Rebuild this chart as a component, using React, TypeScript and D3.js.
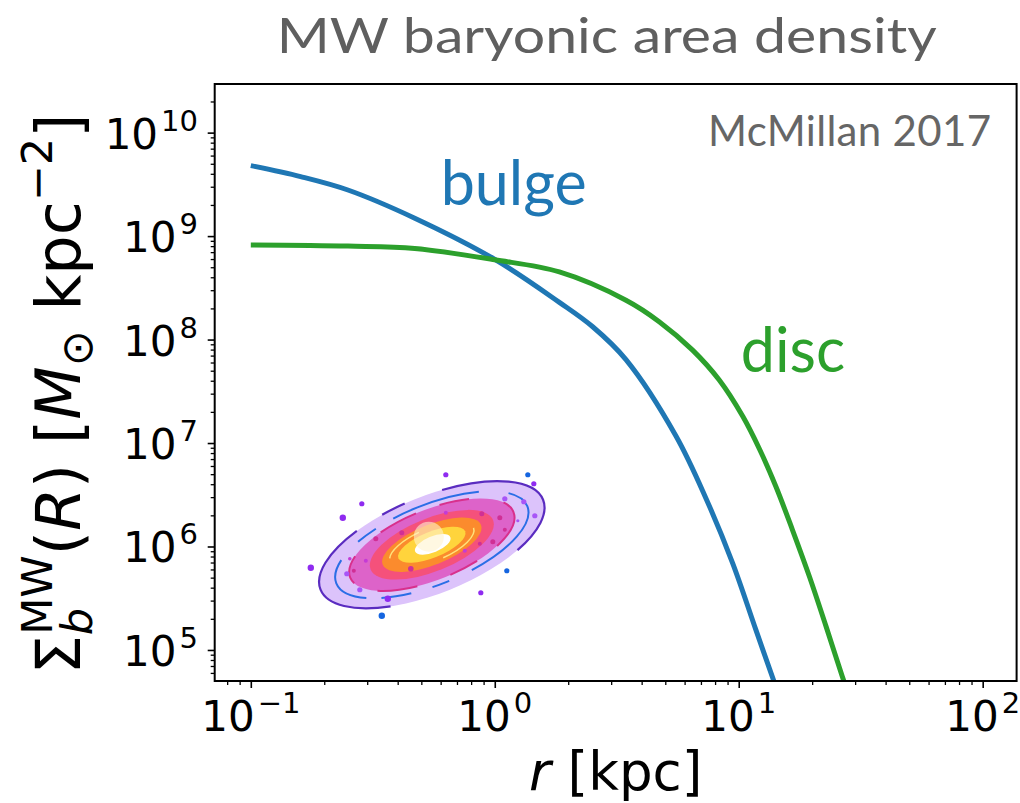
import React, { Component } from "react";
import * as d3 from "d3";

// r in kpc, Sigma in Msun / kpc^2
const bulgeR = [0.1, 0.16, 0.25, 0.47, 1.0, 1.84, 2.52, 3.45, 5.53, 7.35, 9.44, 11.75, 14.3];
const bulgeSigma = [4.8e9, 3.76e9, 2.79e9, 1.49e9, 5.96e8, 2.29e8, 1.33e8, 6.4e7, 1.17e7, 2.9e6, 6.9e5, 1.57e5, 4.2e4];

const discR = [0.1, 0.25, 0.47, 1.0, 1.84, 3.45, 4.72, 6.47, 8.32, 10.4, 12.2, 14.2, 16.6, 19.5, 22.8, 26.6, 27.6];
const discSigma = [8.2e8, 8.0e8, 7.6e8, 5.9e8, 4.5e8, 2.4e8, 1.49e8, 7.9e7, 4.06e7, 1.8e7, 8.6e6, 3.8e6, 1.45e6, 5.1e5, 1.69e5, 5.5e4, 4.3e4];

const xMajor = [0.1, 1, 10, 100];
const xExp = ["\u22121", "0", "1", "2"];
const yMajor = [1e5, 1e6, 1e7, 1e8, 1e9, 1e10];
const yExp = ["5", "6", "7", "8", "9", "10"];

const W = 1020;
const H = 803;
const tickFont = "'DejaVu Sans', sans-serif";
const titleFont = "Lato, 'Open Sans', sans-serif";

class App extends Component {
    node: SVGSVGElement | null = null;

    componentDidMount() {
        this.draw();
    }

    draw() {
        const svg = d3.select(this.node);
        svg.selectAll("*").remove();
        const m = { left: 214.7, right: 1016.6, top: 84, bottom: 681 };

        const x = d3.scaleLog().domain([10 ** -1.148, 10 ** 2.139]).range([m.left, m.right]);
        const y = d3.scaleLog().domain([10 ** 4.7, 10 ** 10.47]).range([m.bottom, m.top]);

        svg.append("clipPath").attr("id", "plot")
            .append("rect")
            .attr("x", m.left).attr("y", m.top)
            .attr("width", m.right - m.left).attr("height", m.bottom - m.top);

        // minor ticks
        const xMinor: number[] = [];
        [0.01, 0.1, 1, 10, 100].forEach(d => d3.range(2, 10).forEach(k => xMinor.push(d * k)));
        const yMinor: number[] = [];
        yMajor.concat([1e4]).forEach(d => d3.range(2, 10).forEach(k => yMinor.push(d * k)));
        const inX = (v: number) => v >= x.domain()[0] && v <= x.domain()[1];
        const inY = (v: number) => v >= y.domain()[0] && v <= y.domain()[1];

        svg.append("g")
            .attr("transform", `translate(0,${m.bottom})`)
            .call(d3.axisBottom(x).tickValues(xMinor.filter(inX)).tickSize(4).tickFormat(() => ""))
            .call(g => g.select(".domain").remove())
            .call(g => g.selectAll("line").attr("stroke-width", 1.3));
        svg.append("g")
            .attr("transform", `translate(0,${m.bottom})`)
            .call(d3.axisBottom(x).tickValues(xMajor).tickSize(7).tickFormat(() => ""))
            .call(g => g.select(".domain").remove())
            .call(g => g.selectAll("line").attr("stroke-width", 1.6));
        svg.append("g")
            .attr("transform", `translate(${m.left},0)`)
            .call(d3.axisLeft(y).tickValues(yMinor.filter(inY)).tickSize(4).tickFormat(() => ""))
            .call(g => g.select(".domain").remove())
            .call(g => g.selectAll("line").attr("stroke-width", 1.3));
        svg.append("g")
            .attr("transform", `translate(${m.left},0)`)
            .call(d3.axisLeft(y).tickValues(yMajor).tickSize(7).tickFormat(() => ""))
            .call(g => g.select(".domain").remove())
            .call(g => g.selectAll("line").attr("stroke-width", 1.6));

        // tick labels, 10 with a raised exponent
        xMajor.forEach((v, i) => {
            const t = svg.append("text")
                .attr("x", x(v)).attr("y", 731)
                .attr("text-anchor", "middle")
                .attr("font-family", tickFont).attr("font-size", 42);
            t.append("tspan").text("10");
            t.append("tspan").attr("dx", 3).attr("dy", -18).attr("font-size", 29).text(xExp[i]);
        });
        yMajor.forEach((v, i) => {
            const t = svg.append("text")
                .attr("x", 198).attr("y", y(v) + 16)
                .attr("text-anchor", "end")
                .attr("font-family", tickFont).attr("font-size", 42);
            t.append("tspan").text("10");
            t.append("tspan").attr("dx", 3).attr("dy", -18).attr("font-size", 29).text(yExp[i]);
        });

        // galaxy icon
        const gx = x(0.552), gy = y(1.04e6);
        const gal = svg.append("g").attr("transform", `translate(${gx},${gy})`);
        const rot = gal.append("g").attr("transform", "rotate(-22)");
        rot.append("ellipse").attr("rx", 120).attr("ry", 48.5)
            .attr("fill", "#dcc3fb").attr("stroke", "#5a2cc0").attr("stroke-width", 2.2)
            .attr("stroke-dasharray", "60 140 150 30 25 40 110");
        rot.append("ellipse").attr("rx", 103).attr("ry", 40)
            .attr("fill", "none").attr("stroke", "#2a6ee6").attr("stroke-width", 2)
            .attr("stroke-dasharray", "90 25 18 22 30 15 60 25 22 20 90 30 26");
        rot.append("ellipse").attr("rx", 88).attr("ry", 35)
            .attr("fill", "#dd63c9").attr("stroke", "#d8308c").attr("stroke-width", 2)
            .attr("stroke-dasharray", "40 25 30 35");
        rot.append("ellipse").attr("rx", 66).attr("ry", 26.5).attr("fill", "#f5517b");
        rot.append("ellipse").attr("rx", 53).attr("ry", 20).attr("fill", "#fb8b2d");
        rot.append("ellipse").attr("rx", 45).attr("ry", 16.5)
            .attr("fill", "none").attr("stroke", "#ffe27a").attr("stroke-width", 1.5)
            .attr("stroke-dasharray", "45 60 40 200");
        rot.append("ellipse").attr("rx", 36).attr("ry", 13).attr("fill", "#ffd43c");
        gal.append("circle").attr("cx", -3).attr("cy", -8).attr("r", 15)
            .attr("fill", "#fff3cf").attr("opacity", 0.6);
        rot.append("ellipse").attr("cx", 1).attr("rx", 19).attr("ry", 8).attr("fill", "#fff");

        const dots: [number, number, number, string][] = [
            [14, -70, 2.6, "#8f2bf0"], [102, -61, 2.6, "#8f2bf0"], [-70, -41, 2.6, "#8f2bf0"],
            [-89, -27, 3.2, "#8f2bf0"], [-121, 23, 3.2, "#8f2bf0"], [-44, 54, 3.2, "#8f2bf0"],
            [49, 48, 2.6, "#8f2bf0"], [96, -70, 2.6, "#1565e0"], [-50, 71, 3.2, "#1565e0"],
            [75, 26, 2.6, "#1565e0"], [-72, 45, 2.6, "#a855f7"], [-85, 29, 2.6, "#a855f7"],
            [73, -46, 2.6, "#a855f7"], [92, -43, 2.6, "#a855f7"], [103, -29, 2.6, "#a855f7"],
            [86, -24, 1.6, "#a855f7"], [-30, -12, 2.5, "#d02f95"], [-56, -6, 2.5, "#d02f95"],
            [-66, 16, 2, "#c43bd6"], [-78, 26, 2, "#d02f95"], [-21, 24, 2.8, "#d02f95"],
            [14, -32, 2, "#c43bd6"], [50, -31, 2.5, "#d02f95"], [68, -27, 2.5, "#d02f95"],
            [73, -15, 2, "#d02f95"], [61, -3, 2.5, "#d02f95"], [48, -1, 2, "#d02f95"],
            [33, 6, 2, "#c43bd6"], [-82, 14, 1.8, "#c43bd6"],
        ];
        gal.selectAll("circle.dot").data(dots).join("circle")
            .attr("class", "dot")
            .attr("cx", d => d[0]).attr("cy", d => d[1]).attr("r", d => d[2])
            .attr("fill", d => d[3]);

        // curves
        const line = d3.line<[number, number]>()
            .x(d => x(d[0])).y(d => y(d[1]))
            .curve(d3.curveCatmullRom.alpha(0.5));
        const plot = svg.append("g").attr("clip-path", "url(#plot)");
        plot.append("path")
            .datum(bulgeR.map((r, i) => [r, bulgeSigma[i]] as [number, number]))
            .attr("d", line).attr("fill", "none")
            .attr("stroke", "#1f77b4").attr("stroke-width", 5);
        plot.append("path")
            .datum(discR.map((r, i) => [r, discSigma[i]] as [number, number]))
            .attr("d", line).attr("fill", "none")
            .attr("stroke", "#2ca02c").attr("stroke-width", 5);

        // spines
        svg.append("rect")
            .attr("x", m.left).attr("y", m.top)
            .attr("width", m.right - m.left).attr("height", m.bottom - m.top)
            .attr("fill", "none").attr("stroke", "#000").attr("stroke-width", 2);

        // annotations
        svg.append("text")
            .attr("x", x(0.6)).attr("y", y(2.0e9))
            .attr("font-family", titleFont).attr("font-size", 61)
            .attr("fill", "#1f77b4").text("bulge");
        svg.append("text")
            .attr("x", x(10.2)).attr("y", y(4.9e7))
            .attr("font-family", titleFont).attr("font-size", 61)
            .attr("fill", "#2ca02c").text("disc");
        svg.append("text")
            .attr("x", 708).attr("y", 145.5)
            .attr("font-family", titleFont).attr("font-size", 42)
            .attr("textLength", 283).attr("lengthAdjust", "spacing")
            .attr("fill", "#666").text("McMillan 2017");
        svg.append("text")
            .attr("x", 276.7).attr("y", 52.7)
            .attr("font-family", titleFont).attr("font-size", 48)
            .attr("textLength", 660).attr("lengthAdjust", "spacingAndGlyphs")
            .attr("fill", "#5f5f5f").text("MW baryonic area density");

        // axis labels
        const xl = svg.append("text")
            .attr("x", (m.left + m.right) / 2).attr("y", 790)
            .attr("text-anchor", "middle")
            .attr("font-family", tickFont).attr("font-size", 53);
        xl.append("tspan").attr("font-style", "italic").text("r");
        xl.append("tspan").text(" [kpc]");

        const yl = svg.append("text")
            .attr("transform", "translate(80,394) rotate(-90)")
            .attr("text-anchor", "middle")
            .attr("font-family", tickFont).attr("font-size", 62);
        yl.append("tspan").text("\u03a3");
        yl.append("tspan").attr("font-style", "italic").attr("font-size", 43).attr("dy", 12).text("b");
        yl.append("tspan").attr("font-size", 43).attr("dx", -27).attr("dy", -40).text("MW");
        yl.append("tspan").attr("dy", 28).text("(");
        yl.append("tspan").attr("font-style", "italic").text("R");
        yl.append("tspan").text(") [");
        yl.append("tspan").attr("font-style", "italic").text("M");
        yl.append("tspan").attr("font-size", 43).attr("dy", 12).text("\u2299");
        yl.append("tspan").attr("dy", -12).text(" kpc");
        yl.append("tspan").attr("font-size", 43).attr("dy", -28).text("\u22122");
        yl.append("tspan").attr("dy", 28).text("]");
    }

    render() {
        return <svg ref={node => { this.node = node; }}
            width={W} height={H}
            style={{ position: "absolute", left: 0, top: 0, background: "#fff" }}>
        </svg>;
    }
}

export default App;
